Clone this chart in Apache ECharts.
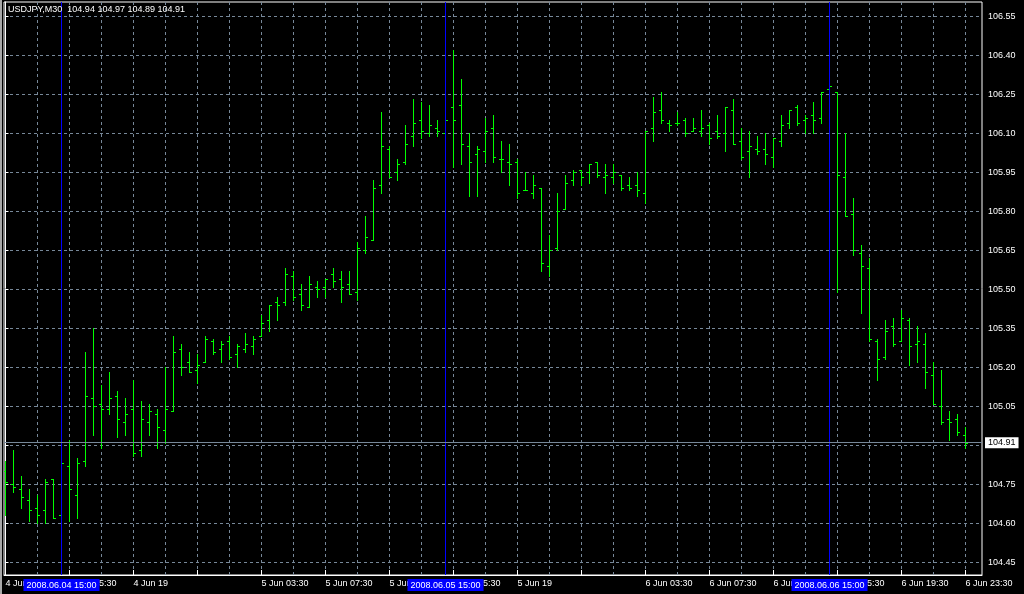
<!DOCTYPE html>
<html>
<head>
<meta charset="utf-8">
<script src="https://cdn.jsdelivr.net/npm/echarts@6/dist/echarts.min.js"></script>
<style>
html,body{margin:0;padding:0;background:#000;}
#c{width:1024px;height:594px;}
</style>
</head>
<body>
<div id="c"></div>
<script>
// ---- data (USDJPY, M30, bar index 0 = 4 Jun 11:30) ----
const opens = [104.80,104.75,104.73,104.69,104.66,104.65,104.77,104.63,104.82,104.71,
104.84,105.08,105.06,105.04,105.09,104.99,105.04,104.88,104.99,105.02,
104.96,105.03,105.27,105.22,105.19,105.22,105.30,105.27,105.30,105.25,
105.27,105.28,105.32,105.38,105.45,105.45,105.55,105.48,105.43,105.51,
105.51,105.56,105.54,105.52,105.49,105.65,105.69,105.90,106.04,105.95,
105.99,106.09,106.15,106.10,106.12,106.10,106.20,106.21,106.05,106.02,
106.03,106.12,106.00,105.99,105.99,105.88,105.87,105.89,105.59,105.66,
105.81,105.92,105.96,105.95,105.99,105.93,105.93,105.94,105.90,105.90,
105.87,106.12,106.19,106.14,106.14,106.15,106.11,106.11,106.13,106.11,
106.10,106.19,106.07,106.03,106.04,106.04,106.01,106.07,106.14,106.20,
106.15,106.17,106.16,106.27,106.26,105.93,105.79,105.64,105.58,105.30,
105.24,105.36,105.30,105.38,105.29,105.29,105.17,105.05,105.00,105.00,
104.94];
const highs = [104.84,104.88,104.78,104.73,104.71,104.77,104.77,104.84,104.92,104.85,
105.26,105.35,105.13,105.18,105.11,105.08,105.15,105.07,105.06,105.04,
105.20,105.32,105.29,105.26,105.25,105.32,105.31,105.30,105.32,105.29,
105.33,105.32,105.40,105.44,105.47,105.58,105.57,105.52,105.55,105.53,
105.54,105.58,105.57,105.57,105.68,105.78,105.92,106.18,106.05,106.00,
106.13,106.23,106.22,106.21,106.15,106.16,106.42,106.31,106.10,106.05,
106.16,106.17,106.07,106.06,106.00,105.95,105.94,105.89,105.71,105.87,
105.94,105.96,105.96,105.98,105.99,105.98,105.98,105.94,105.93,105.95,
106.11,106.24,106.26,106.15,106.18,106.16,106.16,106.19,106.14,106.17,
106.20,106.23,106.12,106.11,106.09,106.10,106.08,106.17,106.19,106.21,
106.17,106.22,106.26,106.28,106.26,106.10,105.85,105.67,105.62,105.31,
105.38,105.39,105.42,105.39,105.36,105.33,105.22,105.19,105.03,105.02,
104.97];
const lows = [104.63,104.72,104.66,104.61,104.60,104.60,104.62,104.61,104.61,104.62,
104.82,104.94,104.89,105.02,104.93,104.94,104.86,104.86,104.94,104.89,
104.91,105.03,105.17,105.18,105.14,105.22,105.25,105.22,105.23,105.20,
105.26,105.25,105.32,105.34,105.38,105.44,105.46,105.42,105.43,105.47,
105.47,105.51,105.45,105.48,105.46,105.64,105.69,105.87,105.93,105.92,
105.98,106.05,106.08,106.09,106.09,106.09,105.97,105.98,105.86,105.86,
105.99,105.99,105.95,105.90,105.85,105.88,105.85,105.57,105.55,105.65,
105.81,105.90,105.90,105.91,105.93,105.87,105.91,105.88,105.88,105.86,
105.83,106.07,106.14,106.11,106.13,106.09,106.11,106.09,106.06,106.08,
106.03,106.06,106.00,105.93,106.02,105.98,105.97,106.05,106.12,106.13,
106.10,106.10,106.14,106.26,105.49,105.78,105.63,105.41,105.30,105.15,
105.23,105.28,105.30,105.21,105.22,105.12,105.06,104.98,104.92,104.94,
104.89];
const closes = [104.76,104.74,104.70,104.65,104.63,104.76,104.62,104.83,104.73,104.83,
105.09,105.05,105.04,105.08,105.00,105.02,104.87,105.00,105.03,104.97,
105.04,105.26,105.20,105.18,105.21,105.31,105.26,105.29,105.24,105.28,
105.29,105.31,105.37,105.44,105.44,105.56,105.47,105.44,105.52,105.50,
105.54,105.53,105.51,105.48,105.66,105.70,105.89,106.05,105.93,105.98,
106.06,106.14,106.11,106.13,106.11,106.15,106.15,106.06,105.99,106.04,
106.11,106.01,106.00,105.98,105.87,105.88,105.90,105.60,105.65,105.80,
105.91,105.95,105.93,105.98,105.94,105.94,105.95,105.89,105.89,105.88,
106.11,106.18,106.15,106.13,106.14,106.10,106.12,106.12,106.08,106.09,
106.20,106.06,106.01,106.05,106.03,106.02,106.08,106.13,106.19,106.14,
106.16,106.15,106.26,106.28,105.94,105.78,105.65,105.59,105.31,105.23,
105.34,105.29,105.39,105.28,105.30,105.18,105.06,104.99,104.99,104.95,
104.91];

// tick / label definitions
const xGridIdx = [4,8,12,16,20,24,28,32,36,40,44,48,52,56,60,64,68,72,76,80,84,88,92,96,100,104,108,112,116,120];
const xTickIdx = [0,8,16,24,32,40,48,56,64,72,80,88,96,104,112,120];
const xLabelIdx = [0,8,16,32,40,48,56,64,80,88,96,104,112,120];
const xLabelText = ['4 Jun 11:30','4 Jun 15:30','4 Jun 19','5 Jun 03:30','5 Jun 07:30','5 Jun 11:30','5 Jun 15:30','5 Jun 19','6 Jun 03:30','6 Jun 07:30','6 Jun 11:30','6 Jun 15:30','6 Jun 19:30','6 Jun 23:30'];
const yTicks = [104.45,104.60,104.75,104.90,105.05,105.20,105.35,105.50,105.65,105.80,105.95,106.10,106.25,106.40,106.55];
const yLabels = [104.45,104.60,104.75,105.05,105.20,105.35,105.50,105.65,105.80,105.95,106.10,106.25,106.40,106.55];
const sepIdx = [7,55,103];
const sepText = ['2008.06.04 15:00','2008.06.05 15:00','2008.06.06 15:00'];
const lastPrice = 104.91;
const titleText = 'USDJPY,M30  104.94 104.97 104.89 104.91';

const FONT = '"Liberation Sans", Arial, sans-serif';
const bars = opens.map((o,i)=>[i,o,highs[i],lows[i],closes[i]]);
const xMin = -0.1875, xMax = 122.0625;

const chart = echarts.init(document.getElementById('c'), null, {renderer:'canvas'});
const markData = sepIdx.map((v,k)=>({
  xAxis: v,
  lineStyle:{color:'#0000ff', type:'solid', width:1},
  label:{show:true, position:'start', formatter: sepText[k], color:'#fff', backgroundColor:'#0000ff',
         padding:[1,3,0,3], fontSize:9, fontFamily:FONT, distance:4, lineHeight:11}
}));
markData.push({
  yAxis: lastPrice,
  lineStyle:{color:'#778899', type:'solid', width:1},
  label:{show:true, position:'end', formatter: lastPrice.toFixed(2), color:'#000', backgroundColor:'#fff',
         padding:[1,3,0,3], fontSize:9, fontFamily:FONT, distance:3, lineHeight:10}
});

chart.setOption({
  backgroundColor:'#000',
  animation:false,
  textStyle:{fontFamily:FONT},
  title:{text:titleText, left:3, top:0, textStyle:{color:'#fff', fontSize:9, fontWeight:'normal', fontFamily:FONT}},
  grid:{left:4, right:42, top:2, bottom:19, show:true, borderColor:'#fff', borderWidth:1, backgroundColor:'transparent', containLabel:false},
  xAxis:[
    {type:'value', min:xMin, max:xMax, axisLine:{show:false}, axisLabel:{show:false},
     axisTick:{show:false, customValues:xGridIdx},
     splitLine:{show:true, lineStyle:{color:'#778899', type:[3,3], width:1}}},
    {type:'value', min:xMin, max:xMax, position:'bottom',
     axisLine:{show:true, lineStyle:{color:'#fff'}},
     axisTick:{show:true, inside:true, length:5, customValues:xTickIdx, lineStyle:{color:'#fff'}},
     axisLabel:{show:true, customValues:xLabelIdx, formatter:(v)=>xLabelText[xLabelIdx.indexOf(Math.round(v))],
       color:'#fff', fontSize:9, fontFamily:FONT, align:'left', margin:4},
     splitLine:{show:false}}
  ],
  yAxis:{type:'value', position:'right', min:104.401, max:106.605,
    axisLine:{show:true, lineStyle:{color:'#fff'}},
    axisTick:{show:true, length:3, customValues:yTicks, lineStyle:{color:'#fff'}},
    axisLabel:{show:true, customValues:yLabels, formatter:(v)=>v.toFixed(2), color:'#fff', fontSize:9, fontFamily:FONT, margin:6},
    splitLine:{show:true, lineStyle:{color:'#778899', type:[3,3], width:1}}},
  series:[{
    type:'custom', xAxisIndex:0, yAxisIndex:0, clip:true,
    data:bars,
    encode:{x:0, y:[1,2,3,4]},
    renderItem:function(params, api){
      const x = api.value(0);
      const ph = api.coord([x, api.value(2)]);
      const pl = api.coord([x, api.value(3)]);
      const po = api.coord([x, api.value(1)]);
      const pc = api.coord([x, api.value(4)]);
      const cx = Math.floor(ph[0]) + 0.5;
      const yo = Math.round(po[1]) + 0.5, yc = Math.round(pc[1]) + 0.5;
      const st = {stroke:'#00ff00', lineWidth:1};
      return {type:'group', children:[
        {type:'line', shape:{x1:cx, y1:Math.round(ph[1]), x2:cx, y2:Math.round(pl[1])+1}, style:st},
        {type:'line', shape:{x1:cx-2.5, y1:yo, x2:cx, y2:yo}, style:st},
        {type:'line', shape:{x1:cx, y1:yc, x2:cx+2.5, y2:yc}, style:st}
      ]};
    },
    markLine:{silent:true, symbol:['none','none'], animation:false, data:markData}
  }],
  graphic:[{type:'rect', left:0, top:0, shape:{width:2, height:594}, style:{fill:'#a8a8a8'}, silent:true}]
});
</script>
</body>
</html>
